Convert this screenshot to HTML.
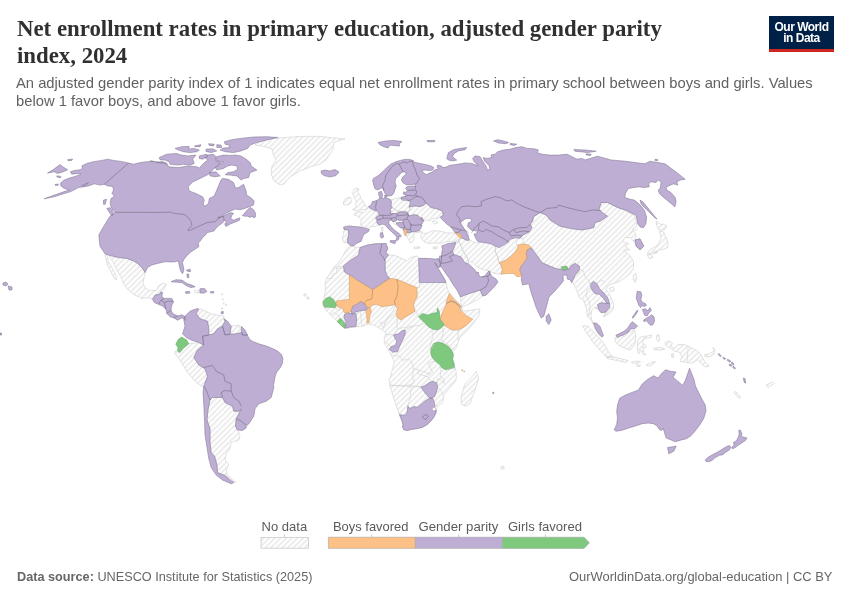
<!DOCTYPE html>
<html lang="en">
<head>
<meta charset="utf-8">
<title>Net enrollment rates in primary education, adjusted gender parity index, 2024</title>
<style>
  html, body { margin: 0; padding: 0; background: #fff; }
  .title, .sub, .foot, .logo, svg { will-change: transform; }
  body { width: 850px; height: 600px; overflow: hidden; position: relative;
         font-family: "Liberation Sans", sans-serif; color: #5b5b5b; }
  .title { position: absolute; left: 16.5px; top: 16.4px; margin: 0;
           font-family: "Liberation Serif", serif; font-weight: bold; font-size: 22.82px;
           line-height: 26.6px; color: #303030; white-space: nowrap; transform-origin: 0 0; }
  .sub { position: absolute; left: 16px; top: 75.2px; margin: 0; font-size: 14.78px; line-height: 17.6px;
         color: #616161; white-space: nowrap; transform-origin: 0 0; }
  .logo { position: absolute; left: 769px; top: 16px; width: 65px; height: 36px; background: #002147;
          border-bottom: 3px solid #ce261e; box-sizing: border-box; color: #fff; text-align: center;
          font-weight: bold; font-size: 12px; line-height: 11.3px; letter-spacing: -0.5px; padding-top: 6px; }
  .foot { position: absolute; top: 568.6px; font-size: 12.7px; line-height: 16px; color: #666; white-space: nowrap; }
  .foot.l { left: 16.5px; } .foot.r { right: 17.5px; font-size: 12.95px; }
  .foot b { font-weight: bold; }
  svg { position: absolute; left: 0; top: 0; }
  .n  { fill: url(#hatch); stroke: #cfcfcf; stroke-width: 0.6; stroke-linejoin: round; }
  .p  { fill: #beaed4; stroke: #7f7493; stroke-width: 0.55; stroke-linejoin: round; }
  .o  { fill: #fdc086; stroke: #c19469; stroke-width: 0.5; stroke-linejoin: round; }
  .g  { fill: #7fc97f; stroke: #5f9a61; stroke-width: 0.5; stroke-linejoin: round; }
  .w  { fill: #fff; stroke: #a79bb9; stroke-width: 0.5; stroke-linejoin: round; }
  .lb { fill: none; stroke: #726d7e; stroke-width: 0.6; stroke-linejoin: round; }
  .ln { fill: none; stroke: #d0d0d0; stroke-width: 0.6; stroke-linejoin: round; }
  .lg text { font-family: "Liberation Sans", sans-serif; font-size: 13px; fill: #5b5b5b; }
</style>
</head>
<body>
<svg width="850" height="600" viewBox="0 0 850 600">
  <defs>
    <pattern id="hatch" width="4" height="4" patternUnits="userSpaceOnUse" patternTransform="rotate(-45 2 2)">
      <rect x="-1" y="-1" width="6" height="6" fill="#fff"/>
      <path d="M-1,2 L5,2" stroke="#e9e9e9" stroke-width="1.6" fill="none"/>
    </pattern>
  </defs>
  <g id="map">
<path class="n" d="M255.0,145.0 L262.0,140.0 L278.0,138.0 L300.0,136.4 L320.0,136.4 L334.0,138.0 L345.0,139.0 L338.0,141.0 L334.0,142.4 L333.0,149.0 L330.0,154.0 L326.0,160.0 L320.0,164.0 L310.0,167.0 L300.0,171.0 L290.0,177.0 L284.0,184.0 L280.0,185.0 L274.0,181.0 L271.0,174.0 L272.0,166.0 L276.0,160.0 L273.0,154.0 L272.0,149.0 L262.0,146.0Z M109.2,255.3 L118.4,257.5 L126.7,258.4 L133.4,260.9 L137.6,263.4 L142.6,268.4 L145.1,272.6 L143.8,278.4 L143.1,283.4 L145.1,287.6 L150.1,290.9 L156.8,290.1 L158.5,285.9 L162.6,283.4 L166.5,284.2 L164.3,288.4 L161.0,291.8 L159.3,294.3 L155.1,295.1 L152.6,299.3 L148.4,297.6 L141.8,298.4 L133.4,294.3 L127.6,289.3 L123.4,283.4 L120.9,276.7 L116.7,270.0 L113.4,262.5 L110.0,257.5Z M105.0,254.7 L107.0,255.0 L108.4,261.7 L112.5,268.4 L115.9,275.1 L116.7,280.1 L114.2,278.4 L110.9,271.7 L107.5,265.0 L105.8,258.4Z M194.4,290.9 L199.9,290.1 L200.2,292.8 L195.2,292.9Z M221.5,293.8 L222.5,293.8 L222.5,294.8 L221.5,294.8Z M222.3,298.8 L223.3,298.8 L223.3,299.8 L222.3,299.8Z M223.1,303.0 L224.1,303.0 L224.1,304.0 L223.1,304.0Z M225.6,304.6 L226.6,304.6 L226.6,305.6 L225.6,305.6Z M221.5,308.0 L222.5,308.0 L222.5,309.0 L221.5,309.0Z M196.2,313.8 L200.0,308.8 L211.2,313.8 L223.8,316.2 L225.0,321.2 L222.5,326.2 L217.5,328.8 L213.8,333.8 L208.8,335.0 L208.8,328.8 L207.5,321.2 L200.0,318.8Z M231.2,326.2 L238.8,325.0 L241.8,332.5 L235.0,334.0 L230.0,334.0Z M175.0,351.2 L180.0,351.2 L183.8,347.5 L188.8,343.8 L198.8,342.5 L203.8,345.0 L197.5,350.0 L193.8,357.5 L198.8,365.0 L205.0,368.8 L207.5,376.2 L203.8,387.5 L196.2,382.5 L187.5,372.5 L180.0,360.0 L175.0,353.8Z M210.0,400.0 L212.5,397.5 L220.0,397.5 L222.5,397.5 L225.0,402.5 L232.5,406.2 L233.8,411.2 L238.8,411.2 L241.2,408.8 L236.2,418.8 L235.5,426.2 L237.5,430.0 L240.0,435.0 L238.8,440.0 L231.2,442.5 L230.0,448.8 L226.2,453.8 L225.0,460.0 L228.8,463.8 L226.2,470.0 L227.5,475.0 L233.8,481.2 L236.2,482.5 L225.0,475.5 L217.5,472.5 L217.0,465.0 L214.5,456.2 L211.2,452.5 L210.0,442.5 L210.0,428.8 L207.0,420.0 L208.0,410.0Z M351.8,191.8 L355.3,188.2 L358.8,188.8 L357.6,192.4 L360.0,194.7 L360.6,198.2 L363.5,201.8 L365.3,205.3 L367.6,207.6 L365.3,209.4 L360.0,210.0 L355.3,211.2 L352.4,209.4 L356.5,207.1 L355.3,204.7 L356.5,201.8 L354.7,198.8 L353.5,195.3Z M343.5,201.8 L345.9,198.2 L350.0,197.1 L351.8,199.4 L350.6,203.5 L346.5,205.3 L343.5,204.7Z M354.1,214.1 L358.2,211.8 L363.5,212.4 L365.9,210.0 L368.2,207.6 L371.8,209.4 L375.3,211.2 L377.6,213.5 L376.5,216.5 L377.1,218.8 L376.5,221.8 L378.2,224.7 L375.9,226.5 L370.6,226.5 L368.8,228.2 L364.1,227.1 L360.6,225.3 L361.2,220.0 L358.8,216.5 L354.7,215.3Z M344.1,229.4 L348.2,230.0 L348.8,234.1 L347.6,238.8 L347.6,242.9 L343.5,242.4 L342.4,238.2 L343.5,234.1Z M381.2,227.6 L382.9,227.1 L382.9,231.2 L381.5,231.2Z M391.5,199.4 L400.3,197.6 L407.9,199.4 L409.7,202.9 L409.1,207.1 L410.3,210.0 L407.4,211.8 L402.6,211.2 L399.1,211.8 L395.0,209.4 L392.1,207.6 L390.9,205.3 L391.5,202.4Z M390.3,209.4 L392.1,207.6 L395.0,209.4 L399.1,211.8 L400.3,211.8 L396.8,213.5 L393.2,213.5 L389.7,213.5 L390.9,211.8Z M392.6,221.5 L395.8,221.2 L396.8,219.4 L399.7,220.4 L403.2,220.0 L403.2,222.4 L402.6,222.4 L396.2,222.9 L397.4,224.7 L400.3,227.6 L402.6,227.6 L403.8,230.6 L400.3,228.2 L396.8,225.3 L393.8,223.5Z M405.6,235.9 L406.4,234.1 L406.8,232.4 L408.5,232.9 L411.5,231.8 L414.4,231.8 L419.1,230.6 L419.7,232.4 L415.6,232.9 L413.2,234.7 L414.4,238.2 L412.6,241.8 L410.3,242.9 L408.5,239.4 L406.8,237.1Z M413.8,247.1 L419.7,246.8 L419.7,248.2 L414.2,248.5Z M410.3,210.0 L409.1,207.1 L414.4,205.9 L420.3,206.5 L423.8,205.3 L426.2,202.9 L430.9,207.6 L436.8,208.8 L442.6,211.2 L443.2,215.3 L440.3,217.1 L436.8,218.8 L433.2,218.2 L430.9,220.6 L426.2,220.0 L423.8,221.2 L422.1,217.6 L420.3,218.2 L417.9,215.3 L414.4,214.7 L409.1,215.9 L407.9,212.9 L407.4,211.8Z M432.1,221.2 L435.6,220.6 L437.9,222.9 L434.4,224.1Z M419.1,230.6 L421.5,231.2 L423.8,233.5 L427.4,232.9 L433.2,230.6 L440.3,231.2 L447.4,232.9 L454.4,232.9 L455.6,232.6 L457.9,235.9 L460.3,238.2 L459.1,240.0 L457.9,241.8 L452.1,241.2 L446.2,241.8 L440.3,243.5 L434.4,242.9 L428.5,243.5 L423.8,241.8 L421.5,238.2 L420.3,235.3 L422.1,233.8Z M433.2,247.1 L437.4,246.8 L437.0,248.6 L433.5,248.8Z M350.1,245.9 L358.4,247.5 L360.1,247.5 L367.6,245.0 L376.0,243.7 L381.8,243.7 L386.0,243.4 L387.7,248.4 L386.0,252.6 L388.5,255.1 L393.5,255.1 L400.2,257.6 L406.9,260.9 L410.2,257.6 L416.9,255.9 L418.6,258.4 L426.9,258.4 L435.3,259.2 L438.5,258.5 L440.0,262.0 L440.5,264.5 L440.0,266.5 L439.0,267.8 L437.0,266.0 L434.5,262.5 L436.0,264.5 L437.5,267.5 L440.0,271.5 L442.0,275.0 L444.5,279.0 L446.0,282.0 L446.5,285.0 L448.0,290.0 L449.5,293.0 L450.5,294.0 L453.5,297.0 L456.0,300.0 L459.0,304.0 L461.0,307.0 L462.5,311.2 L472.5,310.0 L480.0,308.8 L478.8,316.2 L470.0,327.5 L460.0,337.5 L456.2,347.5 L451.2,355.0 L452.5,361.2 L455.0,367.5 L455.0,367.5 L456.2,371.2 L456.2,380.0 L450.0,387.5 L443.8,395.0 L443.4,399.4 L442.1,403.3 L436.9,406.5 L436.3,410.0 L435.9,413.0 L433.7,417.5 L430.5,421.4 L427.2,424.6 L422.7,427.2 L417.5,428.5 L412.4,429.2 L407.2,430.5 L403.9,429.8 L402.6,427.2 L403.0,424.0 L401.4,419.5 L399.4,414.3 L396.2,405.9 L392.9,395.5 L389.7,385.2 L389.1,380.0 L391.0,375.2 L392.6,368.5 L394.3,361.8 L391.8,356.8 L389.3,351.8 L387.6,348.4 L384.3,343.4 L384.3,337.6 L386.0,333.4 L383.5,330.9 L378.4,327.6 L373.4,325.1 L368.4,324.2 L363.4,325.9 L356.7,326.7 L350.9,327.6 L345.9,328.4 L345.0,328.4 L340.9,325.1 L337.5,321.7 L334.2,318.5 L330.9,315.2 L327.5,311.9 L324.7,308.5 L323.4,305.2 L323.0,301.8 L324.2,296.8 L325.4,290.1 L325.0,283.5 L326.7,278.4 L330.0,273.4 L333.4,267.6 L337.6,263.4 L342.6,256.7 L345.9,250.0Z M461.2,396.2 L465.0,383.8 L472.5,376.2 L476.2,371.2 L478.8,378.8 L475.0,390.0 L470.0,403.8 L465.0,406.2 L461.2,403.8Z M460.5,297.0 L465.0,295.0 L471.8,292.7 L480.1,290.2 L481.0,291.8 L482.6,296.0 L476.8,300.2 L470.1,303.5 L463.8,306.5 L461.5,306.0 L461.0,303.0 L460.8,300.0Z M460.5,238.0 L462.2,238.5 L464.0,238.5 L465.5,237.5 L467.5,239.0 L470.0,240.0 L474.0,242.5 L477.5,243.0 L480.0,242.0 L484.0,241.0 L488.0,241.5 L493.0,243.5 L495.5,246.5 L495.3,251.8 L497.6,256.5 L498.8,262.3 L499.4,262.9 L501.2,265.9 L502.9,270.0 L501.5,271.5 L500.0,274.0 L495.0,273.5 L490.5,272.0 L490.0,271.0 L486.0,270.5 L482.5,269.5 L479.0,268.0 L476.5,266.5 L474.5,264.0 L472.0,262.0 L468.5,261.5 L468.0,259.5 L465.5,255.0 L463.0,251.0 L461.5,246.5 L459.0,242.0 L458.5,239.0Z M458.5,239.0 L459.0,242.0 L461.5,246.5 L463.0,251.0 L465.5,255.0 L468.0,259.5 L468.5,261.5 L468.5,264.0 L465.0,262.7 L464.0,261.5 L459.0,258.0 L454.0,255.0 L449.5,254.0 L448.5,252.0 L451.0,249.5 L453.0,246.5 L453.5,243.0 L455.0,241.5Z M495.5,246.5 L500.0,245.0 L504.0,243.0 L509.0,241.5 L511.0,238.0 L513.5,236.5 L516.0,238.0 L519.0,239.0 L516.0,241.5 L517.0,244.5 L518.2,246.5 L517.1,248.8 L515.3,251.8 L510.6,256.5 L505.9,260.0 L499.4,262.9 L498.8,262.3 L497.6,256.5 L495.3,251.8Z M531.9,247.6 L528.5,246.0 L523.5,243.5 L521.8,235.9 L526.0,233.4 L529.4,231.8 L531.9,227.6 L530.2,224.2 L532.7,220.9 L533.5,216.7 L537.7,214.2 L540.2,212.6 L546.2,215.0 L550.0,220.0 L560.0,226.2 L572.5,228.8 L582.5,230.0 L593.8,227.5 L595.0,222.5 L600.0,221.2 L607.5,216.2 L598.8,210.0 L601.2,202.5 L607.5,202.5 L617.5,207.5 L625.0,210.0 L635.0,216.2 L636.2,222.5 L637.0,226.2 L632.5,228.8 L636.2,235.0 L635.0,240.0 L640.0,238.8 L643.8,246.2 L640.0,250.0 L636.2,246.2 L633.8,241.2 L630.0,237.5 L625.0,237.5 L622.5,241.2 L628.8,243.8 L625.0,246.2 L630.0,250.0 L623.5,250.0 L630.2,255.8 L633.5,261.7 L633.5,268.4 L630.2,273.4 L625.2,277.6 L620.2,280.9 L614.3,283.4 L608.5,285.1 L606.0,289.3 L610.1,295.1 L613.5,303.5 L613.5,309.3 L608.5,314.3 L603.5,316.8 L606.0,312.1 L601.0,312.6 L598.4,309.3 L594.3,307.6 L591.8,310.1 L590.9,316.8 L592.6,321.8 L595.9,325.2 L593.4,324.3 L590.1,318.5 L587.6,316.8 L585.9,306.8 L583.4,300.1 L579.2,297.6 L576.7,290.1 L573.4,283.4 L571.7,282.6 L573.4,279.2 L575.1,275.1 L577.6,272.6 L579.7,269.2 L579.2,265.9 L575.1,263.4 L570.9,265.9 L568.4,270.0 L568.0,268.7 L566.7,266.2 L561.7,266.7 L560.0,266.7 L561.1,269.2 L556.9,268.9 L550.2,266.3 L542.7,263.0 L538.5,256.8 L536.0,253.5Z M582.6,326.0 L587.6,326.0 L595.1,333.5 L603.5,342.7 L608.5,351.9 L612.6,356.9 L606.8,357.8 L600.1,350.2 L593.4,342.7 L585.9,331.9Z M609.3,288.4 L613.1,286.8 L614.3,290.1 L611.0,292.1Z M633.5,275.1 L636.0,273.4 L636.9,279.2 L634.9,282.6 L633.2,279.2Z M656.0,220.9 L660.2,224.2 L664.3,224.2 L666.8,225.9 L665.2,229.3 L661.8,230.1 L658.5,229.3 L656.8,225.9Z M659.3,230.9 L663.5,231.8 L666.0,237.6 L668.2,243.5 L667.7,247.6 L663.5,249.3 L658.5,250.1 L654.3,252.6 L651.0,254.3 L647.6,252.6 L650.1,249.3 L655.2,246.8 L658.5,243.5 L661.0,238.4 L660.2,234.3Z M647.6,253.5 L651.8,255.2 L652.6,257.7 L649.8,258.8 L647.6,256.0Z M653.5,251.8 L657.7,251.0 L656.8,253.1 L653.8,253.8Z M766.2,385.0 L772.5,382.0 L774.0,383.5 L768.0,387.5Z M304.0,294.0 L306.0,294.0 L306.0,296.0 L304.0,296.0Z M307.0,297.0 L309.0,297.0 L309.0,299.0 L307.0,299.0Z M615.1,337.9 L617.9,335.1 L624.5,336.0 L630.1,331.3 L634.8,330.4 L635.8,336.9 L634.8,344.5 L630.1,350.1 L624.5,348.2 L618.8,345.4 L615.1,341.6Z M606.6,355.8 L615.1,357.3 L622.6,359.2 L628.2,360.5 L626.4,362.4 L616.9,360.5 L607.5,358.6Z M631.1,362.4 L635.8,361.0 L640.5,361.8 L635.8,363.7Z M646.1,365.2 L651.8,361.8 L655.5,361.8 L649.9,366.1Z M636.7,364.8 L640.5,365.2 L639.5,366.5 L636.9,366.1Z M637.6,340.7 L640.5,336.9 L647.1,336.0 L651.8,335.1 L650.8,337.3 L644.2,338.8 L642.4,342.6 L646.1,345.4 L645.2,348.2 L642.4,346.4 L644.2,352.9 L646.1,354.8 L643.3,354.8 L640.5,350.1 L638.6,353.9 L637.3,348.2Z M656.8,335.1 L658.7,334.7 L659.9,339.8 L658.0,341.6 L656.5,338.8Z M653.6,348.2 L660.2,347.3 L664.9,349.2 L660.2,350.1 L654.6,349.7Z M671.5,353.9 L673.4,353.5 L673.8,357.3 L671.9,357.6Z M664.9,342.6 L668.7,340.7 L672.5,343.5 L670.6,346.4 L674.4,348.2 L678.1,344.5 L684.7,344.5 L692.2,348.2 L697.9,351.1 L701.6,355.8 L704.5,361.4 L709.2,366.1 L705.4,367.1 L700.7,363.3 L697.9,359.5 L692.2,363.3 L686.6,362.4 L680.0,361.4 L681.9,356.7 L679.1,352.0 L674.4,351.1 L668.7,347.3 L665.9,345.4Z M704.5,354.8 L709.2,353.9 L713.9,351.1 L712.9,347.3 L715.2,350.1 L713.9,353.9 L710.1,356.7 L705.4,356.7Z M734.0,392.5 L735.5,391.5 L740.8,397.2 L739.3,398.7Z M500.5,467.0 L503.5,466.0 L504.5,468.0 L501.5,469.5Z"/>
<path class="p" d="M81.8,165.9 L86.8,163.4 L93.5,161.7 L101.8,160.4 L107.7,159.2 L113.5,160.4 L121.0,161.4 L128.6,163.1 L133.6,164.2 L140.3,162.6 L146.9,161.7 L152.8,161.4 L154.5,163.1 L162.0,161.4 L167.0,163.4 L150.0,160.9 L158.4,162.6 L167.5,164.2 L168.4,166.8 L178.4,167.6 L188.4,165.9 L196.8,166.8 L199.3,168.1 L203.5,163.4 L207.6,160.1 L205.1,157.6 L207.6,155.1 L213.5,154.2 L216.0,156.7 L215.2,160.9 L221.0,162.6 L216.8,165.9 L213.5,169.3 L208.5,174.3 L200.1,178.4 L192.6,182.1 L188.1,186.8 L189.3,191.0 L195.9,193.5 L202.6,196.8 L204.3,200.2 L203.1,204.3 L205.1,206.0 L208.5,203.5 L209.3,198.5 L214.3,196.0 L216.8,190.1 L218.5,186.0 L221.0,180.1 L222.7,178.4 L228.5,179.3 L233.5,182.6 L235.5,188.1 L238.5,187.6 L243.6,184.3 L246.1,191.0 L246.5,195.0 L251.2,197.9 L254.1,200.9 L253.5,205.0 L250.6,206.2 L244.7,208.5 L240.0,209.7 L235.3,209.1 L230.6,210.9 L225.9,213.2 L221.2,216.2 L217.6,217.6 L221.2,217.0 L225.9,214.6 L230.6,212.6 L233.5,213.2 L231.8,215.6 L230.6,218.5 L233.5,220.3 L237.6,218.5 L240.0,217.9 L239.4,220.3 L235.3,222.1 L230.6,223.8 L225.9,226.5 L224.7,223.8 L227.1,222.6 L224.1,220.3 L222.9,222.6 L218.8,225.6 L215.3,229.1 L214.1,230.9 L211.8,231.5 L207.1,232.6 L205.9,234.4 L202.4,237.9 L199.4,242.1 L198.2,243.2 L198.8,246.8 L195.3,249.1 L190.6,252.1 L186.5,256.2 L184.1,259.1 L182.4,262.6 L183.9,269.2 L182.7,273.7 L181.0,271.7 L179.4,266.7 L178.5,260.9 L173.5,262.0 L165.2,261.7 L157.6,263.4 L151.8,265.0 L147.6,267.5 L145.1,272.6 L142.6,268.4 L137.6,263.4 L133.4,260.9 L126.7,258.4 L118.4,257.5 L109.2,255.3 L105.0,253.8 L100.0,246.2 L98.8,235.0 L103.8,226.2 L110.0,216.2 L115.2,212.7 L112.7,210.2 L111.0,206.8 L110.2,202.6 L111.0,198.5 L114.4,196.0 L111.9,193.5 L113.5,190.1 L112.7,186.4 L107.7,185.9 L104.3,184.3 L100.2,185.1 L94.3,183.8 L88.5,185.9 L83.5,186.8 L78.4,187.6 L73.8,190.1 L70.1,191.8 L63.4,193.8 L55.1,196.5 L44.2,198.8 L51.7,196.0 L60.1,193.1 L65.9,191.0 L69.3,189.8 L64.2,188.4 L60.9,185.9 L60.6,183.1 L63.4,180.4 L69.3,178.1 L75.1,176.4 L81.0,174.2 L78.4,173.4 L71.8,174.2 L70.4,171.7 L74.3,170.6 L80.1,169.7 L82.6,168.4Z M47.5,173.1 L52.6,170.1 L60.1,164.6 L62.6,166.7 L67.6,169.7 L63.4,171.7 L57.6,173.4 L54.2,171.7Z M56.7,175.9 L60.9,176.4 L60.6,177.8 L57.1,177.1Z M67.6,159.7 L72.6,159.0 L71.8,160.4 L68.1,160.7Z M55.1,184.3 L58.4,184.1 L58.1,185.3 L55.4,185.4Z M81.8,185.4 L88.5,182.6 L86.5,184.8 L82.6,186.6Z M103.5,200.1 L106.5,199.3 L105.2,204.3 L103.5,204.3Z M106.8,208.5 L110.2,207.7 L113.5,213.5 L111.9,216.0 L108.5,211.0Z M209.3,172.6 L216.0,171.8 L220.2,175.9 L215.2,176.8 L210.1,175.9Z M216.8,156.7 L223.5,155.1 L230.2,155.4 L235.2,155.1 L241.0,155.9 L246.1,159.2 L250.2,162.6 L251.1,165.9 L256.9,170.1 L250.2,172.6 L248.6,177.6 L243.6,178.4 L241.0,180.1 L236.9,175.9 L230.2,175.1 L225.2,174.8 L227.7,172.6 L233.5,171.8 L237.7,169.3 L236.9,165.9 L231.9,165.1 L227.7,165.9 L223.5,168.4 L216.8,170.1 L215.2,167.6 L221.0,163.4 L223.5,161.7 L216.8,160.9 L216.0,158.4Z M224.3,141.7 L231.9,139.7 L240.2,138.4 L253.6,137.0 L266.9,136.7 L277.8,137.5 L266.9,140.0 L256.9,142.5 L250.2,145.0 L247.7,148.4 L241.0,150.9 L233.5,152.6 L225.2,151.7 L220.2,150.0 L223.5,148.0 L230.2,147.5 L228.5,145.0 L225.2,144.2Z M159.2,157.6 L166.7,154.2 L176.7,153.4 L180.9,155.1 L188.4,155.9 L195.9,155.1 L192.6,159.2 L194.3,163.4 L190.1,165.1 L183.4,164.2 L178.4,165.1 L170.0,164.2 L169.2,161.7 L165.0,160.1 L160.0,159.7Z M175.1,148.4 L181.7,146.7 L189.3,146.4 L188.4,149.2 L193.4,148.4 L199.3,150.0 L196.8,151.7 L190.1,152.6 L183.4,151.7 L178.4,150.0Z M194.3,145.9 L201.0,144.7 L200.1,146.7 L195.1,146.7Z M208.5,143.7 L214.3,144.2 L213.5,145.9 L209.3,145.4Z M216.8,144.7 L221.0,145.0 L221.8,147.5 L216.8,147.5Z M206.0,149.2 L212.6,148.7 L216.8,150.9 L211.0,152.6 L206.0,151.4Z M199.3,155.9 L206.8,154.2 L207.6,156.7 L202.6,159.2 L199.3,158.4Z M242.4,215.6 L247.1,210.3 L250.0,207.4 L252.9,209.1 L255.3,212.6 L255.5,216.8 L253.5,217.9 L252.4,216.2 L250.0,217.4 L247.6,216.2 L244.7,216.2Z M321.0,171.0 L325.0,170.0 L330.0,171.0 L335.0,169.6 L339.0,172.0 L336.0,175.6 L330.0,177.0 L324.0,175.6 L321.6,173.6Z M152.6,299.3 L155.1,295.1 L159.3,294.3 L161.0,291.8 L162.6,292.6 L161.8,296.8 L164.3,298.4 L171.8,298.4 L173.5,301.8 L171.8,305.1 L171.0,310.1 L172.7,313.5 L177.7,316.0 L181.9,314.8 L185.2,316.8 L185.2,320.2 L181.9,317.7 L177.7,320.2 L173.5,317.7 L170.2,316.8 L166.8,313.5 L166.0,309.3 L162.6,306.0 L158.5,304.3 L154.3,302.6Z M171.0,281.7 L176.0,279.7 L181.9,280.1 L186.9,283.4 L191.9,285.1 L195.2,286.8 L191.0,287.6 L186.9,285.9 L181.9,282.6 L175.2,282.1Z M185.2,291.8 L189.4,291.4 L189.9,293.1 L186.0,293.4Z M199.9,288.8 L204.4,288.4 L206.9,291.4 L204.4,293.1 L200.2,293.1Z M210.3,291.8 L213.6,291.4 L213.9,292.8 L210.6,293.1Z M186.5,270.0 L190.2,269.2 L190.5,271.7 L187.7,271.4Z M186.9,274.2 L188.5,273.9 L188.9,277.6 L187.2,277.6Z M221.1,311.8 L223.3,311.5 L223.3,313.5 L221.3,313.8Z M185.0,316.2 L190.0,311.2 L196.2,308.8 L198.8,308.8 L196.2,313.8 L200.0,318.8 L207.5,321.2 L208.8,328.8 L208.8,335.0 L202.5,336.2 L203.8,345.0 L198.8,342.5 L191.2,340.0 L186.2,337.5 L182.5,333.8 L185.0,326.2 L183.8,320.0Z M223.8,318.8 L227.5,321.2 L231.2,326.2 L230.0,334.2 L225.0,335.0 L222.5,326.2 L225.0,321.2Z M241.2,326.2 L245.0,330.0 L247.5,335.0 L242.5,335.0 L241.8,332.5Z M202.5,336.2 L208.8,335.0 L213.8,333.8 L217.5,328.8 L222.5,326.2 L225.0,335.0 L230.0,334.2 L235.0,334.0 L241.8,332.5 L242.5,335.0 L247.5,335.0 L247.7,335.9 L249.9,339.8 L253.5,341.8 L260.2,344.3 L266.1,345.9 L270.2,347.6 L275.2,349.8 L278.6,351.8 L281.6,354.8 L282.9,358.5 L282.3,363.5 L280.3,367.7 L276.9,371.8 L275.2,376.0 L274.4,380.2 L273.6,385.2 L273.8,387.5 L271.2,397.5 L266.2,401.2 L258.8,403.8 L255.0,408.8 L253.8,416.2 L248.8,423.8 L246.2,426.2 L246.2,428.0 L242.5,430.5 L237.5,430.0 L235.5,426.2 L236.2,418.8 L241.2,408.8 L238.8,411.2 L233.8,411.2 L232.5,406.2 L225.0,402.5 L222.5,397.5 L220.0,397.5 L212.5,397.5 L210.0,400.0 L208.0,410.0 L207.0,420.0 L210.0,428.8 L210.0,442.5 L211.2,452.5 L214.5,456.2 L217.0,465.0 L217.5,472.5 L225.0,475.5 L230.0,480.0 L233.8,482.5 L231.2,483.8 L222.5,480.0 L216.2,475.0 L211.2,467.5 L208.8,458.8 L207.0,447.5 L205.0,435.0 L204.5,420.0 L203.8,405.0 L203.0,392.5 L203.8,386.2 L207.5,376.2 L205.0,368.8 L198.8,365.0 L193.8,357.5 L197.5,350.0 L203.8,345.0Z M372.6,180.0 L373.8,178.2 L377.9,175.9 L382.6,171.8 L386.8,167.6 L390.9,164.1 L395.6,161.8 L400.3,160.4 L405.0,159.4 L409.7,159.4 L413.2,160.6 L415.0,162.4 L420.3,163.5 L426.2,164.7 L430.9,165.9 L433.8,167.6 L432.6,170.0 L429.1,170.6 L425.0,170.0 L421.5,170.6 L423.8,172.9 L426.2,174.7 L428.5,173.5 L432.6,171.8 L434.4,170.0 L438.5,168.8 L436.8,166.5 L437.9,165.1 L441.5,165.9 L442.6,167.6 L446.2,167.1 L449.7,165.3 L454.4,164.7 L459.1,164.1 L465.0,162.9 L471.7,163.4 L478.4,165.9 L474.2,161.7 L472.6,158.4 L475.1,155.9 L480.1,156.7 L482.6,160.9 L485.9,165.9 L487.6,170.1 L489.8,169.3 L489.3,165.9 L485.1,161.7 L483.1,157.6 L486.8,158.4 L491.8,157.6 L491.0,155.1 L495.1,154.2 L497.6,151.7 L503.5,150.0 L510.2,149.2 L516.0,147.5 L521.9,146.7 L526.9,148.4 L533.6,148.7 L538.6,150.0 L536.9,152.6 L541.9,154.2 L550.3,155.1 L558.6,155.1 L567.0,154.2 L572.0,156.7 L577.0,159.2 L582.0,158.4 L585.0,160.0 L597.5,156.2 L611.2,160.0 L625.0,161.2 L645.0,163.8 L650.0,161.2 L665.0,163.8 L675.0,171.2 L685.2,179.3 L680.2,180.1 L676.9,181.8 L677.7,185.1 L673.6,183.8 L668.5,185.9 L666.0,187.6 L666.9,190.1 L671.0,192.6 L675.2,197.6 L676.1,201.8 L674.9,206.8 L671.0,203.5 L666.9,200.1 L662.7,196.8 L659.4,193.5 L658.2,190.1 L660.2,188.4 L661.0,182.6 L658.5,179.8 L656.0,182.6 L651.0,181.8 L648.5,183.8 L649.3,186.8 L644.3,187.6 L638.5,186.8 L628.4,188.4 L625.4,193.5 L624.8,197.6 L630.1,199.3 L634.3,200.1 L637.6,202.6 L641.0,206.0 L644.3,210.2 L646.5,216.8 L646.0,223.5 L643.5,227.7 L640.1,226.9 L637.6,223.5 L636.8,218.5 L636.0,215.2 L625.0,210.0 L617.5,207.5 L607.5,202.5 L601.2,202.5 L598.8,210.0 L607.5,216.2 L600.0,221.2 L595.0,222.5 L593.8,227.5 L582.5,230.0 L572.5,228.8 L560.0,226.2 L550.0,220.0 L546.2,215.0 L540.0,212.5 L537.7,214.2 L533.5,216.7 L532.7,220.9 L530.2,224.2 L531.9,227.6 L529.4,231.8 L526.0,233.4 L521.8,235.9 L520.2,238.4 L516.8,237.6 L513.5,238.4 L509.3,239.3 L508.5,241.8 L503.5,245.1 L499.3,247.6 L495.1,246.0 L490.1,243.5 L483.4,242.6 L478.8,241.8 L477.6,241.2 L475.3,237.6 L474.1,234.1 L476.5,233.5 L477.6,231.2 L474.1,230.6 L471.2,230.0 L467.6,226.5 L468.2,222.9 L471.8,221.2 L470.6,218.2 L465.3,218.8 L460.6,222.4 L461.2,224.1 L462.9,226.5 L465.3,230.6 L468.2,235.3 L468.8,238.8 L469.4,240.0 L467.6,240.6 L465.3,239.8 L462.4,238.2 L458.8,235.3 L455.3,232.9 L451.5,227.6 L448.5,225.3 L445.0,222.4 L442.1,219.4 L440.3,217.1 L443.2,215.3 L442.6,211.2 L436.8,208.8 L430.9,207.6 L426.2,202.9 L423.8,205.3 L420.3,206.5 L414.4,205.9 L409.1,207.1 L410.6,202.4 L408.8,200.4 L406.2,199.2 L400.9,198.8 L401.5,197.1 L405.0,196.5 L406.2,194.7 L403.2,194.1 L403.8,191.8 L405.6,192.4 L407.4,190.6 L405.6,188.8 L406.8,186.7 L410.3,186.2 L415.6,185.9 L415.6,184.1 L410.3,184.7 L406.2,184.7 L403.2,182.9 L401.5,180.0 L402.6,177.1 L405.6,174.7 L406.2,172.4 L403.2,171.8 L400.9,172.9 L399.1,175.3 L395.6,178.8 L395.0,182.4 L396.2,185.9 L395.0,189.4 L393.8,192.9 L392.1,195.3 L388.5,196.1 L386.8,195.3 L385.0,193.5 L383.8,190.6 L382.1,187.6 L377.9,190.0 L375.0,188.8 L373.8,185.3Z M446.7,158.4 L448.4,152.6 L453.4,149.7 L460.0,148.4 L466.7,147.5 L465.1,149.7 L458.4,150.9 L454.2,153.4 L452.5,156.7 L456.7,160.1 L453.4,160.9 L448.4,160.1Z M493.5,140.9 L497.6,139.7 L503.5,140.9 L508.5,142.5 L506.0,143.7 L498.5,143.0Z M510.2,143.4 L516.8,144.2 L514.3,145.4 L510.2,144.7Z M573.8,149.5 L585.0,150.0 L596.2,151.2 L587.5,152.5 L575.0,151.2Z M586.2,153.8 L591.2,154.2 L590.5,155.5 L586.2,155.0Z M655.0,159.2 L658.0,159.8 L657.5,160.8 L655.0,160.5Z M378.0,142.4 L386.0,141.0 L394.0,140.4 L402.0,141.6 L399.0,144.0 L399.6,146.0 L394.0,145.6 L390.0,145.0 L388.0,148.0 L383.0,146.4 L379.6,144.4Z M427.0,140.5 L435.0,140.5 L434.5,141.8 L427.5,141.8Z M640.0,200.0 L643.0,202.0 L650.0,210.5 L657.0,219.2 L653.8,216.8 L647.5,210.5 L641.2,204.2Z M378.5,192.4 L381.5,191.2 L382.6,194.7 L382.1,197.6 L379.7,197.6 L378.9,195.3Z M384.4,195.3 L386.8,195.1 L386.9,197.1 L384.8,197.3Z M372.1,201.8 L376.8,200.6 L379.7,198.2 L382.6,198.5 L385.6,197.6 L390.3,199.4 L391.5,202.4 L390.9,205.3 L392.1,207.6 L390.3,209.4 L390.9,211.8 L389.7,213.5 L393.2,213.5 L396.8,213.5 L400.3,211.8 L405.6,211.8 L407.9,212.9 L409.1,215.9 L414.4,214.7 L417.9,215.3 L420.3,218.2 L422.1,217.6 L423.8,221.2 L422.6,222.4 L422.1,224.1 L420.3,224.7 L422.1,225.3 L420.9,228.2 L419.1,230.6 L414.4,231.8 L411.5,231.8 L408.5,232.9 L406.8,232.4 L406.4,230.0 L405.6,230.0 L403.8,230.6 L402.6,227.6 L400.3,227.6 L397.4,224.7 L396.2,222.9 L402.6,222.4 L403.2,220.0 L399.7,220.4 L396.8,219.4 L395.8,221.2 L392.6,221.5 L391.5,220.0 L388.5,221.2 L389.1,224.1 L391.5,227.1 L395.0,230.6 L399.1,233.5 L401.5,235.9 L400.3,237.1 L398.5,235.9 L399.1,238.8 L397.4,240.6 L396.2,240.0 L396.8,237.1 L395.0,234.7 L391.5,231.8 L387.9,228.2 L385.6,225.3 L382.6,224.1 L379.1,225.3 L377.4,223.5 L376.8,221.8 L377.4,220.0 L375.6,218.8 L376.2,217.1 L379.1,215.3 L378.5,212.4 L376.2,210.6 L374.4,210.6 L371.5,208.8 L369.1,207.6 L368.5,206.5 L371.5,204.7Z M390.3,240.6 L396.2,240.6 L395.0,243.5 L392.1,242.9 L389.9,241.8Z M380.3,232.9 L382.6,232.4 L383.6,237.1 L381.5,238.2 L380.3,236.5Z M343.5,227.1 L348.8,225.9 L354.7,226.5 L360.6,227.1 L364.7,228.2 L369.4,229.4 L368.2,231.8 L364.1,234.1 L362.4,237.6 L361.2,241.2 L356.5,243.5 L353.5,245.9 L350.0,245.3 L347.6,242.9 L347.6,238.8 L348.8,234.1 L348.2,230.0 L344.1,229.4Z M343.4,265.9 L350.9,260.1 L358.4,255.1 L360.1,247.5 L367.6,245.0 L376.0,243.7 L381.8,243.7 L386.0,243.4 L387.7,248.4 L386.0,252.6 L388.5,255.1 L385.2,259.2 L385.2,260.9 L385.2,270.1 L386.8,275.1 L389.9,278.4 L383.5,282.6 L372.6,289.8 L369.3,287.6 L358.4,281.0 L349.3,275.1 L344.2,271.8Z M418.6,258.4 L426.9,258.4 L435.3,259.2 L438.5,258.5 L440.0,262.0 L440.5,264.5 L440.0,266.5 L439.0,267.8 L437.0,266.0 L434.5,262.5 L436.0,264.5 L437.5,267.5 L440.0,271.5 L442.0,275.0 L444.5,279.0 L446.0,282.5 L419.4,282.6Z M350.9,311.0 L352.6,306.0 L357.6,303.5 L361.0,301.0 L365.1,304.3 L367.6,307.7 L366.0,310.2 L360.1,311.0 L355.9,311.9 L351.8,314.0Z M344.2,314.4 L348.4,312.7 L351.8,314.0 L355.9,313.5 L356.8,320.2 L355.9,326.6 L350.1,326.9 L345.6,328.2 L345.6,325.2 L345.9,321.0 L344.2,318.5Z M393.4,335.1 L398.4,333.8 L401.7,330.9 L405.1,330.1 L405.4,333.8 L403.4,338.4 L400.9,343.5 L399.2,347.6 L397.5,351.8 L392.5,352.1 L389.2,349.3 L390.9,346.8 L395.9,345.1 L396.7,341.0 L395.0,338.4Z M420.8,387.1 L424.6,385.8 L429.2,382.6 L433.1,381.3 L436.9,383.2 L437.6,387.8 L436.3,392.3 L434.4,396.8 L431.8,398.1 L429.8,398.1 L427.2,395.5 L424.0,391.6Z M399.4,414.3 L402.6,415.2 L405.9,414.9 L407.4,411.1 L407.8,405.9 L410.0,408.5 L413.9,406.5 L417.5,407.2 L421.4,403.9 L425.3,400.7 L429.8,398.1 L433.1,398.8 L434.4,402.6 L435.0,406.5 L433.7,407.8 L433.1,409.8 L435.0,411.1 L436.3,410.0 L435.9,413.0 L433.7,417.5 L430.5,421.4 L427.2,424.6 L422.7,427.2 L417.5,428.5 L412.4,429.2 L407.2,430.5 L403.9,429.8 L402.6,427.2 L403.0,424.0 L401.4,419.5Z M441.7,245.9 L448.4,243.4 L455.9,242.6 L454.2,247.6 L452.6,250.9 L452.6,252.1 L454.2,254.6 L460.9,256.8 L464.0,261.5 L465.0,262.7 L468.5,264.0 L471.5,266.5 L474.5,269.5 L476.0,271.5 L476.7,273.5 L477.2,272.0 L478.5,272.5 L479.0,275.5 L481.0,277.0 L484.0,276.5 L486.0,274.5 L488.0,271.7 L489.5,271.0 L490.0,273.5 L492.0,276.5 L496.0,279.0 L498.0,282.0 L494.3,286.8 L490.2,291.0 L486.0,295.2 L482.6,296.0 L481.0,291.8 L480.1,290.2 L471.8,292.7 L465.0,295.0 L460.5,297.0 L459.0,294.0 L457.0,290.0 L454.0,286.0 L451.5,282.0 L449.5,278.5 L446.5,274.5 L443.5,270.0 L441.5,267.0 L440.0,266.5 L440.4,263.4 L439.2,260.1 L439.7,255.9 L441.7,255.9 L441.7,252.6 L442.6,249.2Z M531.1,247.6 L535.3,253.4 L537.8,256.8 L540.6,260.9 L542.7,263.0 L550.2,266.3 L556.9,268.9 L561.1,269.2 L562.0,269.7 L565.9,270.0 L568.0,268.7 L568.4,270.0 L570.9,265.9 L575.1,263.4 L579.2,265.9 L579.7,269.2 L577.6,272.6 L575.1,275.1 L573.4,279.2 L571.7,282.6 L570.0,279.7 L567.5,279.2 L566.7,275.1 L563.0,275.1 L563.4,280.9 L560.0,285.1 L555.0,290.9 L550.0,295.9 L548.8,297.5 L546.2,307.5 L543.8,316.2 L541.2,318.0 L536.2,307.5 L531.2,292.5 L528.8,283.8 L522.5,285.0 L521.2,278.8 L521.9,276.0 L519.4,270.1 L521.1,266.0 L524.4,261.8 L526.9,257.6 L526.1,254.3 L526.9,250.1Z M546.2,316.2 L548.8,313.8 L551.2,320.0 L548.8,324.5 L546.2,321.2Z M590.1,284.2 L593.4,281.4 L596.8,283.4 L599.3,288.4 L603.5,292.6 L607.6,297.6 L609.3,302.6 L609.8,307.6 L606.0,312.1 L601.0,312.6 L598.4,309.3 L597.6,304.3 L601.8,302.6 L606.8,303.5 L603.5,298.4 L599.3,294.3 L595.1,293.8 L592.6,290.9 L590.9,287.6Z M593.5,322.9 L597.1,323.5 L600.0,326.5 L601.8,331.2 L603.5,335.9 L601.8,337.1 L598.2,333.5 L595.3,328.8Z M615.9,335.3 L619.4,333.5 L624.1,331.2 L627.6,328.2 L630.6,323.5 L632.4,321.8 L637.6,325.9 L634.7,328.8 L630.6,328.8 L628.8,331.8 L625.3,334.1 L620.6,335.9 L617.6,337.6Z M637.1,291.4 L640.8,291.8 L641.8,295.3 L640.8,299.4 L642.4,302.4 L645.3,303.5 L646.5,305.3 L644.1,306.5 L641.8,305.3 L640.6,307.6 L638.8,305.3 L637.6,301.8 L636.2,298.2Z M642.4,309.4 L645.3,308.8 L647.6,310.6 L650.0,307.6 L651.4,310.6 L648.8,312.9 L647.1,315.9 L644.7,315.3 L643.5,312.4Z M643.5,320.0 L646.5,318.2 L649.4,316.5 L651.8,314.7 L654.1,317.1 L654.5,321.2 L652.9,324.7 L650.6,325.3 L648.2,322.9 L646.5,320.6 L644.1,321.8Z M632.1,317.6 L634.1,314.7 L637.1,310.2 L638.0,310.9 L635.3,315.3 L632.9,318.2Z M635.0,240.0 L640.0,238.8 L643.8,246.2 L640.0,250.0 L636.2,246.2Z M614.2,429.7 L616.7,424.5 L617.5,417.7 L616.7,411.7 L617.5,405.0 L619.7,398.2 L625.0,395.2 L632.5,392.2 L638.5,390.0 L642.2,384.0 L647.5,379.5 L653.5,375.7 L658.0,378.0 L661.0,374.2 L665.5,369.7 L670.0,371.2 L676.0,372.0 L673.0,377.2 L677.5,381.0 L682.7,385.5 L685.7,379.5 L688.0,372.7 L689.5,368.2 L691.7,373.5 L694.0,379.5 L695.5,386.2 L698.5,392.2 L701.5,398.2 L705.2,405.0 L706.0,411.0 L703.7,418.5 L700.0,424.5 L695.5,430.5 L691.0,435.7 L686.5,438.7 L680.5,440.2 L675.2,441.7 L670.0,439.5 L666.2,438.0 L664.7,433.5 L663.2,428.2 L661.7,430.5 L659.5,429.7 L657.2,426.0 L653.5,423.7 L648.2,423.0 L642.2,423.7 L635.5,426.0 L628.0,428.2 L621.2,430.5 L616.0,431.2Z M667.5,447.5 L676.2,446.2 L673.8,451.2 L668.8,453.8Z M738.8,430.0 L740.6,430.4 L741.8,433.5 L741.5,435.9 L742.9,437.1 L747.1,437.9 L745.3,440.6 L741.8,442.9 L738.2,445.3 L735.3,447.6 L732.4,448.8 L731.8,447.1 L734.1,445.3 L733.5,442.4 L736.5,440.6 L738.2,437.6 L739.2,434.1Z M705.1,460.0 L707.6,457.6 L712.4,454.7 L718.2,451.8 L722.9,448.8 L726.5,446.5 L729.4,445.6 L730.9,447.1 L729.4,450.0 L725.3,452.4 L722.9,454.7 L719.4,455.3 L715.3,457.6 L711.8,460.6 L708.2,461.8 L705.9,461.2Z M3.0,283.0 L6.0,282.0 L8.0,284.0 L6.0,286.0 L3.0,285.0Z M8.0,286.0 L12.0,287.0 L12.0,290.0 L9.0,290.0Z M0.0,333.0 L1.5,333.0 L1.5,335.0 L0.0,335.0Z M492.8,392.2 L493.8,392.2 L493.8,393.5 L492.8,393.5Z M718.6,353.5 L721.4,355.8 L720.5,356.7 L718.2,354.6Z M723.3,357.3 L725.7,358.6 L725.0,359.5 L722.7,358.2Z M727.6,359.2 L730.8,361.0 L729.9,362.2 L727.2,360.3Z M731.8,361.8 L734.0,364.2 L733.3,365.2 L731.2,363.3Z M729.5,364.2 L731.8,365.2 L731.4,366.3 L729.1,365.4Z M733.3,366.1 L735.5,368.0 L734.8,368.9 L732.7,367.4Z M743.4,378.0 L744.9,378.4 L745.7,383.1 L744.2,382.5Z"/>
<path class="o" d="M404.4,229.4 L406.2,228.8 L406.8,231.2 L406.4,234.1 L405.6,235.9 L404.4,234.7 L403.8,231.8Z M455.6,232.9 L457.9,232.4 L460.9,235.3 L462.4,238.0 L460.3,238.2 L457.9,235.9Z M349.3,274.8 L358.4,281.0 L369.3,287.6 L372.6,289.8 L372.1,296.8 L371.5,299.3 L366.8,300.2 L364.3,302.7 L365.1,304.3 L361.0,301.0 L357.6,303.5 L352.6,306.0 L350.9,311.0 L349.3,312.7 L344.2,312.7 L342.6,308.5 L337.6,306.8 L335.9,303.5 L336.7,301.0 L349.3,299.3Z M372.6,289.8 L383.5,282.6 L389.9,278.4 L396.9,279.3 L398.2,286.8 L396.9,296.0 L394.4,301.0 L395.2,304.3 L392.7,305.2 L386.8,306.0 L381.8,306.8 L376.8,304.3 L372.6,305.2 L369.8,307.7 L367.6,307.7 L365.1,304.3 L364.3,302.7 L366.8,300.2 L371.5,299.3 L372.1,296.8Z M396.9,279.3 L416.9,287.6 L417.3,296.8 L414.4,301.8 L413.6,306.8 L415.2,311.0 L410.2,314.4 L405.2,316.9 L401.0,320.2 L396.9,316.9 L396.0,313.5 L397.7,308.5 L395.2,306.0 L395.2,304.3 L394.4,301.0 L396.9,296.0 L398.2,286.8Z M367.6,308.5 L370.1,307.7 L371.5,311.9 L369.3,316.9 L369.3,322.7 L367.1,323.2 L366.8,316.9 L366.0,311.9Z M440.1,319.2 L442.6,311.7 L446.0,305.0 L446.0,302.5 L449.3,293.3 L451.0,295.8 L454.3,300.0 L459.4,304.2 L461.9,307.5 L459.9,306.7 L461.0,310.9 L466.9,315.9 L472.7,319.2 L466.9,325.1 L461.9,328.4 L456.8,330.1 L451.8,330.1 L447.7,327.6 L444.3,325.1Z M517.7,245.1 L522.7,243.7 L528.6,245.1 L531.1,247.6 L526.9,250.1 L526.1,254.3 L526.9,257.6 L524.4,261.8 L521.1,266.0 L519.4,270.1 L521.9,276.0 L516.9,276.8 L513.6,273.5 L506.9,273.5 L501.0,274.3 L502.2,270.1 L501.5,266.0 L499.4,262.9 L505.9,259.9 L510.5,256.4 L515.2,251.8 L517.1,248.7 L518.2,246.4Z M461.9,369.8 L462.8,369.8 L462.8,370.7 L461.9,370.7Z M463.8,371.2 L464.6,371.2 L464.6,372.0 L463.8,372.0Z"/>
<path class="g" d="M175.8,344.3 L178.4,339.3 L181.7,337.1 L186.7,340.1 L188.7,343.8 L184.2,347.6 L181.7,350.1 L180.0,352.6 L177.5,351.0 L178.0,347.6Z M323.0,301.8 L325.9,298.2 L330.0,296.8 L334.2,300.2 L336.4,305.2 L335.1,307.7 L330.0,307.2 L324.7,307.2 L323.4,305.2Z M337.2,321.5 L340.1,318.2 L343.4,321.0 L345.6,325.2 L344.7,328.2 L340.9,325.2Z M418.4,316.7 L422.6,313.4 L427.6,315.1 L431.8,313.4 L436.8,312.6 L437.6,308.0 L439.3,311.7 L440.1,319.2 L444.3,325.1 L441.8,327.6 L437.6,330.1 L432.6,329.3 L428.4,326.8 L424.3,322.6 L420.9,319.2Z M433.5,343.5 L437.6,342.1 L442.6,343.1 L447.7,346.0 L451.0,349.3 L453.5,354.3 L452.7,359.3 L454.3,364.3 L454.3,367.7 L450.2,368.9 L446.0,369.9 L441.8,367.7 L439.3,364.3 L435.1,361.0 L431.8,356.8 L430.6,351.8 L431.5,347.6Z M561.7,266.7 L566.7,266.2 L568.0,268.7 L565.9,270.0 L562.0,269.7Z"/>
<path class="w" d="M432.4,407.8 L435.0,407.2 L435.9,409.5 L434.1,411.1 L432.4,410.0Z"/>
<path class="lb" d="M128.6,163.1 L104.3,184.3 M115.2,212.3 L160.0,212.4 L171.2,212.1 L172.4,212.9 L177.6,213.8 L184.1,214.4 L188.2,217.4 L191.2,221.5 L191.8,225.6 L188.8,229.1 L187.9,230.5 L190.6,230.1 L197.6,226.8 L207.1,222.6 L215.3,221.5 L217.6,219.1 L220.0,217.4 L223.5,216.2 L224.1,220.3 M158.5,304.3 L161.0,300.1 L164.3,298.4 M161.0,300.1 L164.3,302.6 L168.5,301.0 L173.5,301.8 M164.3,302.6 L166.0,309.3 M166.8,313.5 L171.0,310.1 M173.5,317.7 L177.7,316.0 M203.8,367.5 L212.5,365.5 L216.2,371.2 L223.8,375.0 L225.0,381.2 L231.2,383.8 L231.2,391.2 L233.8,397.5 L238.8,401.2 L241.2,406.2 M231.2,391.2 L225.0,390.5 L221.2,392.5 L222.5,397.5 M203.8,386.2 L206.2,390.0 L210.0,400.0 M236.2,418.8 L241.2,421.2 L246.2,425.0 M383.8,190.6 L382.6,185.3 L385.0,180.6 L385.6,175.9 L388.5,171.2 L392.1,166.5 L396.8,163.5 L399.1,164.1 L400.9,167.6 L403.2,171.8 M399.1,164.1 L403.8,161.8 L407.4,162.9 L409.7,161.2 L412.6,161.2 L413.2,165.3 L415.6,170.0 L416.8,174.7 L419.7,178.8 L415.6,184.1 M415.6,185.9 L415.0,188.8 L416.8,191.8 L415.6,194.7 L417.9,196.5 L421.5,197.1 L424.4,200.6 L426.2,203.5 M407.4,190.6 L412.1,190.0 L415.0,190.6 M405.0,196.5 L408.5,195.3 L413.2,195.9 L415.6,194.7 M408.8,200.4 L412.1,199.4 L414.4,197.1 L417.9,196.5 M400.9,198.8 L402.1,200.0 L406.2,200.4 L408.8,200.4 M460.0,222.6 L460.0,219.2 L456.7,215.1 L457.5,211.7 L461.7,206.7 L468.4,205.9 L475.1,206.7 L481.7,205.9 L480.9,201.7 L486.8,199.2 L495.1,196.7 L500.1,197.5 L506.8,200.9 L511.8,200.0 L516.8,203.4 L523.5,206.7 L530.2,209.2 L536.9,211.7 L540.2,212.6 L546.9,208.4 L556.9,207.5 L558.6,205.0 L566.9,207.5 L577.0,210.0 L585.3,211.7 L592.0,210.0 L601.2,210.4 M471.7,232.6 L475.1,227.6 L479.2,223.4 L483.4,220.9 L491.8,225.9 L498.4,226.8 L503.5,230.1 L509.3,232.6 L513.5,229.3 L520.2,227.6 L526.8,227.6 L530.2,224.2 M479.2,223.4 L478.4,230.1 L483.4,231.8 L485.9,229.3 L491.8,231.8 L498.4,235.9 L503.5,238.4 L508.5,241.8 M509.3,232.6 L511.0,235.9 L516.8,235.1 L521.8,235.9 M513.5,229.3 L516.0,232.6 L523.5,230.9 L529.4,231.8 M376.8,200.6 L376.2,203.5 L375.6,207.1 L376.2,210.6 M379.1,215.3 L382.6,215.3 L390.3,215.3 L393.2,213.5 M382.6,215.3 L383.2,218.2 L386.8,218.2 L390.9,218.2 L391.5,220.0 M383.2,218.2 L380.9,219.4 L377.4,220.0 M390.9,218.2 L395.6,217.6 L397.4,215.9 L396.8,213.5 M397.4,215.9 L402.6,215.3 L406.8,214.7 L407.9,212.9 M395.8,217.6 L396.8,219.4 M406.8,214.7 L409.1,215.9 M403.2,220.0 L406.8,218.8 L409.1,221.2 L410.3,223.5 L411.5,224.7 L415.6,225.3 L420.3,224.7 M406.8,218.8 L408.5,215.3 M410.3,223.5 L410.9,226.5 L410.3,229.4 L411.5,231.8 M410.9,226.5 L411.5,224.7 M403.2,222.4 L403.8,224.7 L405.0,227.6 L406.8,229.4 L410.3,229.4 M402.6,227.6 L405.0,227.6 M420.3,218.2 L422.6,221.2 M381.8,243.7 L381.0,248.4 L379.8,253.4 L383.5,257.6 L385.2,260.9 M446.8,303.4 L451.0,300.9 L455.2,302.5 L459.9,306.7 M422.4,416.9 L425.9,414.3 L428.5,416.2 L425.3,419.9 L422.4,416.9 M441.7,255.9 L443.4,255.9 L447.6,254.3 L452.6,250.9 M440.9,263.4 L446.7,262.6 L452.6,260.9 L449.2,256.8 L454.2,254.6 M441.7,255.9 L441.4,260.1 L440.9,263.4 M481.8,276.8 L487.7,276.0 L488.5,281.0 L486.0,286.8 L480.1,290.2 M487.7,276.0 L490.2,274.3 L489.3,271.8 M450.1,226.7 L455.9,228.4 L460.9,230.0 L459.3,231.7 L455.9,233.0 M460.9,230.0 L465.1,230.4 L468.4,232.5 M606.8,303.5 L609.3,303.1"/>
<path class="ln" d="M380.0,322.6 L385.0,323.4 L388.4,318.4 L395.9,313.4 M397.5,328.4 L405.1,327.6 L413.4,325.9 L420.9,325.1 L424.3,322.6 M415.4,310.0 L418.4,316.7 M380.0,322.6 L383.3,327.6 M395.9,313.4 L397.5,320.1 L396.7,325.9 L397.5,328.4 L393.4,335.1 M385.0,334.3 L390.0,334.3 L393.4,335.1 M385.8,341.8 L390.9,346.8 M405.4,333.8 L406.7,329.3 L413.4,325.9 M431.8,340.1 L430.1,347.6 L430.6,351.8 M432.6,329.3 L431.8,333.4 L433.5,334.3 L431.8,340.1 M391.7,355.2 L399.2,356.0 L402.6,360.2 L409.2,359.3 L412.6,364.3 L413.4,368.5 L419.3,370.2 L425.1,371.9 L429.3,374.4 L430.1,372.7 M413.4,368.5 L412.6,376.9 L414.2,382.7 L410.1,385.2 M390.0,385.2 L400.0,385.6 L410.1,385.2 L415.9,386.9 L420.9,386.1 M419.3,370.2 L417.6,373.5 L427.6,376.9 L432.6,371.9 L430.1,367.7 L428.4,363.5 L431.8,361.8 L435.1,361.0 M427.6,376.9 L431.0,381.0 M439.3,364.3 L441.0,370.2 L440.1,376.9 L443.5,378.5 L444.3,383.6 L441.8,381.0 L437.6,378.5 L437.6,383.6 M446.0,369.9 L454.3,367.7 M430.1,347.6 L432.6,347.6 L433.5,343.5 M433.5,334.3 L437.6,330.1 M441.8,327.6 L443.5,330.1 L442.6,335.1 L441.8,340.1 L437.6,342.1 M441.8,340.1 L451.0,346.8 L453.5,349.3 M458.2,330.9 L457.7,336.8 L458.5,341.8 M456.8,330.1 L458.2,330.9 L461.9,328.4 M459.9,306.7 L462.2,307.5 L461.9,310.9 M585.9,295.1 L587.6,289.3 L590.9,287.6 M585.9,295.1 L589.3,301.8 L590.1,308.5 L588.4,316.0 M596.8,283.4 L600.1,280.1 L605.1,281.7 M579.7,269.2 L583.4,270.9 L585.1,276.7 L589.3,281.7 L590.9,285.9 M598.4,309.3 L594.3,307.6 M603.5,316.8 L606.0,312.1 M629.3,234.3 L633.4,230.1 L637.6,229.3 M632.6,241.0 L635.1,240.1 M333.4,267.6 L337.6,267.1 L343.4,265.9 M326.7,278.4 L331.7,278.4 L332.6,274.3 L336.7,272.6 L336.7,268.4 L343.4,268.1 M324.7,308.5 L328.4,307.7 L330.0,307.2 M330.9,315.2 L333.4,312.7 L336.7,313.5 L340.1,318.2 M340.9,325.2 L343.4,321.0 L345.9,321.0 M360.1,311.0 L361.0,316.9 L361.8,326.1 M395.2,306.0 L393.5,310.2 L388.5,316.9 L385.2,321.9 L383.5,328.6 M419.4,282.6 L419.4,287.6 L416.9,287.6 M335.1,307.7 L337.6,310.2 L342.6,308.5 M355.9,313.5 L360.1,311.0 M688.1,346.4 L687.0,362.4 M389.7,385.2 L409.8,386.5 L411.1,387.1 L410.4,396.8 L407.8,405.9 M411.1,387.1 L417.5,385.8 L420.8,387.1 M437.6,387.8 L440.8,390.4 L443.4,395.5 M435.0,406.5 L436.9,405.9"/>
  </g>
  <g class="lg">
    <rect x="261" y="537.4" width="47.5" height="10.8" fill="url(#hatch)" stroke="#cfcfcf" stroke-width="0.9"/>
    <rect x="328.4" y="537.2" width="87" height="11.2" fill="#fdc086"/>
    <rect x="415.2" y="537.2" width="87" height="11.2" fill="#beaed4"/>
    <path d="M502.2,537.2 H584.1 L589.4,542.8 L584.1,548.4 H502.2 Z" fill="#7fc97f"/>
    <path d="M328.4,537.2 H584.1 L589.4,542.8 L584.1,548.4 H328.4 Z M415.2,537.2 V548.4 M502.2,537.2 V548.4" fill="none" stroke="#9c9c9c" stroke-width="0.5"/>
    <path d="M284.5,534.4 V537.2 M371.7,534.4 V537.2 M458.7,534.4 V537.2 M545.5,534.4 V537.2" stroke="#c4c4c4" stroke-width="0.9" fill="none"/>
    <text x="261.6" y="530.5" textLength="45.6" lengthAdjust="spacingAndGlyphs">No data</text>
    <text x="333" y="530.5" textLength="75.4" lengthAdjust="spacingAndGlyphs">Boys favored</text>
    <text x="418.4" y="530.5" textLength="80" lengthAdjust="spacingAndGlyphs">Gender parity</text>
    <text x="507.9" y="530.5" textLength="74.1" lengthAdjust="spacingAndGlyphs">Girls favored</text>
  </g>
</svg>
<h1 class="title" id="t1">Net enrollment rates in primary education, adjusted gender parity<br>index, 2024</h1>
<p class="sub" id="s1">An adjusted gender parity index of 1 indicates equal net enrollment rates in primary school between boys and girls. Values<br>below 1 favor boys, and above 1 favor girls.</p>
<div class="logo">Our World<br>in Data</div>
<div class="foot l"><b>Data source:</b> UNESCO Institute for Statistics (2025)</div>
<div class="foot r">OurWorldinData.org/global-education | CC BY</div>
</body>
</html>
